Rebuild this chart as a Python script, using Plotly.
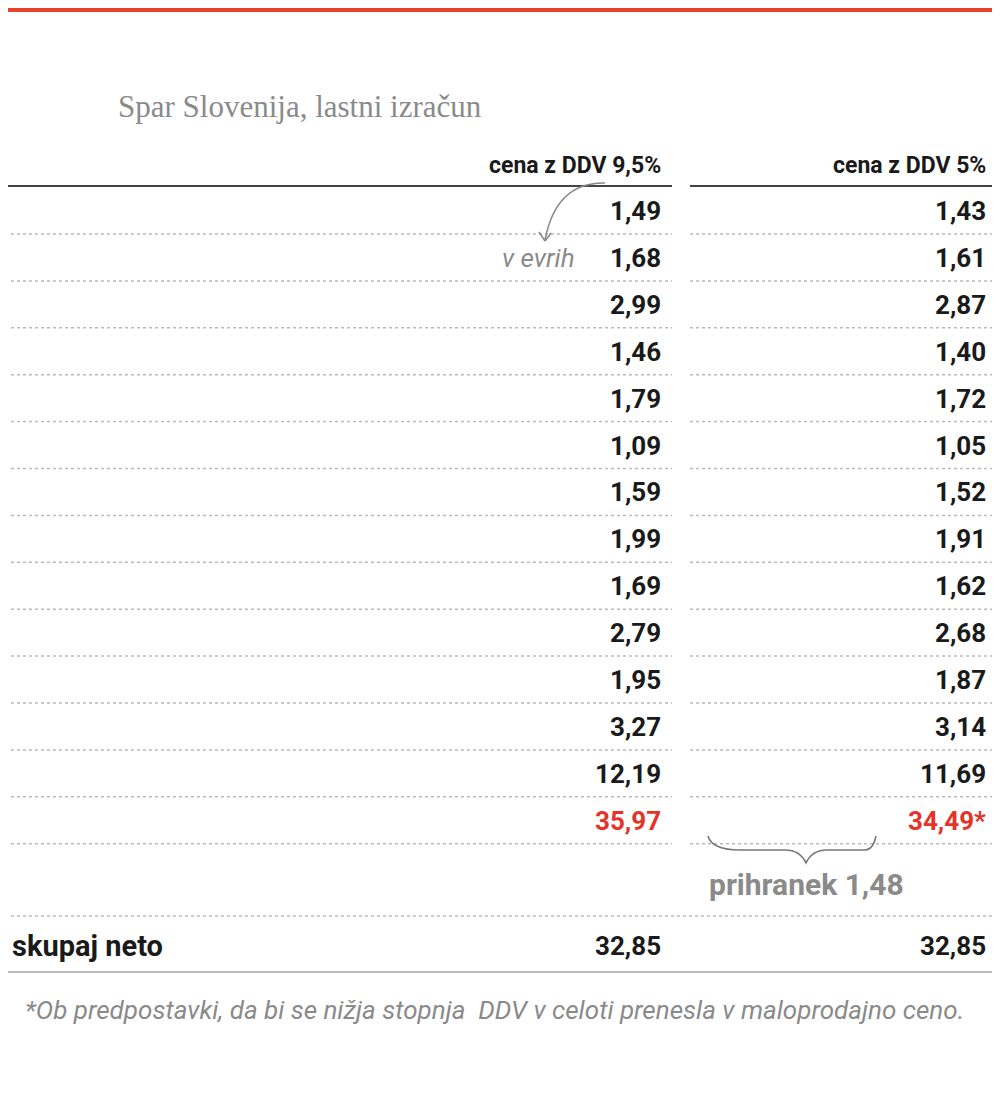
import plotly.graph_objects as go

items = ["korenje 500 g", "banane 844 g", "maslo 250 g", "kruh 325 g", "peresniki 450 g",
         "pšenična bela moka 1 kg", "beli sladkor 1 kg", "češnjev paradižnik 250 g",
         "sveže mleko 1 l", "sončnično olje 1 l", "tekoči jogurt 1 kg", "poltrdi sir 226 g",
         "piščančje krače 1,4  kg"]
price_95 = [1.49, 1.68, 2.99, 1.46, 1.79, 1.09, 1.59, 1.99, 1.69, 2.79, 1.95, 3.27, 12.19]
price_5 = [1.43, 1.61, 2.87, 1.40, 1.72, 1.05, 1.52, 1.91, 1.62, 2.68, 1.87, 3.14, 11.69]
total_95 = 35.97
total_5 = 34.49
saving = 1.48
neto_95 = 32.85
neto_5 = 32.85

def fmt(v):
    return f"{v:.2f}".replace(".", ",")

RED = "#e5332a"
DARK = "#1a1a1a"
GRAY = "#8a8a8a"
NARROW = "Roboto, sans-serif"
BODY = "Roboto, sans-serif"

fig = go.Figure()
shapes = []
ann = []

def text(x, y, t, size=26, color=DARK, family=BODY, anchor="left", bold=False, italic=False):
    if bold:
        t = f"<b>{t}</b>"
    if italic:
        t = f"<i>{t}</i>"
    ann.append(dict(x=x, y=y, text=t, showarrow=False, xanchor=anchor, yanchor="middle",
                    font=dict(size=size, color=color, family=family), xref="x", yref="y"))

def line(x0, y0, x1, y1, color, width=1.5, dash="solid"):
    shapes.append(dict(type="line", x0=x0, y0=y0, x1=x1, y1=y1, xref="x", yref="y",
                       line=dict(color=color, width=width, dash=dash)))

shapes.append(dict(type="rect", x0=0, x1=1000, y0=0, y1=12, xref="x", yref="y",
                   fillcolor="#e8412c", line=dict(width=0)))
text(3, 58, "Cena košarice osnovnih živil", size=42, family=NARROW, bold=True)
text(6, 106, "PODATKI", size=21, color=GRAY, family=BODY)
text(116, 106, "Spar Slovenija, lastni izračun", size=31, color=GRAY, family="Liberation Serif, serif")

text(6, 165, "živilo", size=26, family=NARROW, bold=True)
text(663, 165, "cena z DDV 9,5%", size=23, family=NARROW, bold=True, anchor="right")
text(988, 165, "cena z DDV 5%", size=23, family=NARROW, bold=True, anchor="right")
line(5, 186, 672, 186, "#444", 2)
line(690, 186, 1000, 186, "#444", 2)

y0, step = 211, 46.9
for i, (n, a, b) in enumerate(zip(items, price_95, price_5)):
    y = y0 + i * step
    text(6, y, n, size=27)
    text(663, y, fmt(a), size=26, family=NARROW, bold=True, anchor="right")
    text(988, y, fmt(b), size=26, family=NARROW, bold=True, anchor="right")
    line(5, y + 23, 672, y + 23, "#bbbbbb", 1.5, "dot")
    line(690, y + 23, 1000, y + 23, "#bbbbbb", 1.5, "dot")

ys = y0 + len(items) * step
text(6, ys, "skupaj", size=27, color=RED, family=NARROW, bold=True)
text(663, ys, fmt(total_95), size=26, color=RED, family=NARROW, bold=True, anchor="right")
text(988, ys, fmt(total_5) + "*", size=26, color=RED, family=NARROW, bold=True, anchor="right")
line(5, ys + 23, 672, ys + 23, "#bbbbbb", 1.5, "dot")
line(690, ys + 23, 1000, ys + 23, "#bbbbbb", 1.5, "dot")

shapes.append(dict(type="path", xref="x", yref="y",
                   path="M708,836 Q712,850 740,850 L785,850 Q800,850 806,863 Q812,850 827,850 L865,850 Q873,850 876,836",
                   line=dict(color="#777", width=1.5)))
text(806, 884, "prihranek " + fmt(saving), size=30, color=GRAY, family=NARROW, bold=True, anchor="center")
line(5, 916, 1000, 916, "#bbbbbb", 1.5, "dot")

text(10, 946, "skupaj neto", size=29, family=NARROW, bold=True)
text(663, 946, fmt(neto_95), size=26, family=NARROW, bold=True, anchor="right")
text(988, 946, fmt(neto_5), size=26, family=NARROW, bold=True, anchor="right")
line(5, 972, 1000, 972, "#bbbbbb", 2)

text(494, 1010, "*Ob predpostavki, da bi se nižja stopnja  DDV v celoti prenesla v maloprodajno ceno.",
     size=26, color=GRAY, family=BODY, anchor="center", italic=True)

shapes.append(dict(type="path", xref="x", yref="y",
                   path="M605,183 Q556,182 545,240", line=dict(color="#888", width=1.5)))
line(545, 241, 539, 232, "#888", 1.5)
line(545, 241, 551, 233, "#888", 1.5)
text(577, 258, "v evrih", size=26, color=GRAY, family=BODY, anchor="right", italic=True)

# page has an 8px body margin: offset the axis ranges so coordinates equal page pixels
fig.update_layout(width=992, height=1090, margin=dict(l=0, r=0, t=0, b=0),
                  paper_bgcolor="white", plot_bgcolor="white",
                  xaxis=dict(range=[8, 1000], visible=False, fixedrange=True),
                  yaxis=dict(range=[1098, 8], visible=False, fixedrange=True),
                  shapes=shapes, annotations=ann, showlegend=False)
fig.write_html("out.html")
